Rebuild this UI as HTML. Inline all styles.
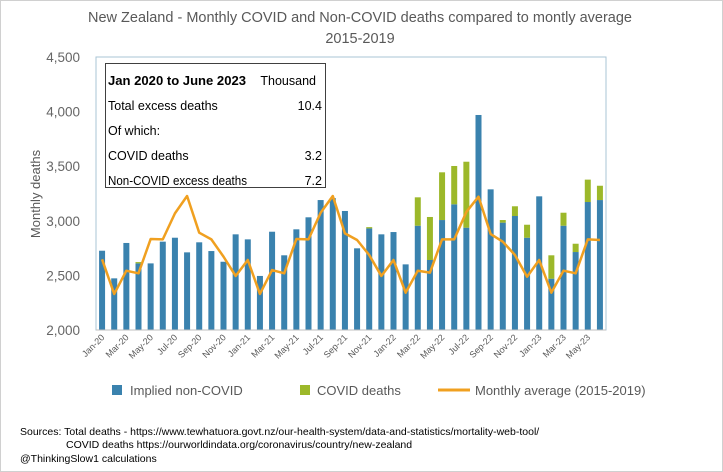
<!DOCTYPE html>
<html><head><meta charset="utf-8"><style>
body{margin:0;background:#fff;}
svg{display:block;font-family:"Liberation Sans",Arial,sans-serif;}
</style></head><body>
<svg id="chart" width="723" height="472" viewBox="0 0 723 472">
<rect x="0.5" y="0.5" width="722" height="471" fill="#fff" stroke="#d0d0d0"/>
<text x="360" y="22" text-anchor="middle" font-size="14.5" fill="#595959">New Zealand - Monthly COVID and Non-COVID deaths compared to montly average</text>
<text x="360" y="43" text-anchor="middle" font-size="14.5" fill="#595959">2015-2019</text>
<rect x="96" y="57" width="510" height="273" fill="none" stroke="#a9c4d6"/>
<g id="yaxis"></g>
<g id="bars"></g>
<g id="line"></g>
<g id="xaxis"></g>
<text transform="translate(40,194) rotate(-90)" text-anchor="middle" font-size="13" fill="#595959">Monthly deaths</text>
<g>
<rect x="105.5" y="63.5" width="220" height="124" fill="#fff" stroke="#404040"/>
<text x="108" y="85" font-size="12.5" font-weight="bold" fill="#000" textLength="138" lengthAdjust="spacingAndGlyphs">Jan 2020 to June 2023</text>
<text x="316" y="85" font-size="12.5" text-anchor="end" fill="#000">Thousand</text>
<text x="108" y="110" font-size="12.5" fill="#000">Total excess deaths</text>
<text x="322" y="110" font-size="12.5" text-anchor="end" fill="#000">10.4</text>
<text x="108" y="135" font-size="12.5" fill="#000">Of which:</text>
<text x="108" y="160" font-size="12.5" fill="#000">COVID deaths</text>
<text x="322" y="160" font-size="12.5" text-anchor="end" fill="#000">3.2</text>
<text x="108" y="185" font-size="12.5" fill="#000" textLength="139" lengthAdjust="spacingAndGlyphs">Non-COVID excess deaths</text>
<text x="322" y="185" font-size="12.5" text-anchor="end" fill="#000">7.2</text>
</g>
<g>
<rect x="112" y="385" width="10" height="10" fill="#3a82ae"/>
<text x="130" y="395" font-size="13" fill="#595959">Implied non-COVID</text>
<rect x="300" y="385" width="10" height="10" fill="#9cb82a"/>
<text x="317" y="395" font-size="13" fill="#595959">COVID deaths</text>
<line x1="438" y1="390" x2="470" y2="390" stroke="#f0a020" stroke-width="3"/>
<text x="475" y="395" font-size="13" fill="#595959">Monthly average (2015-2019)</text>
</g>
<g font-size="10.5" fill="#000">
<text x="20" y="435">Sources:  Total deaths - https://www.tewhatuora.govt.nz/our-health-system/data-and-statistics/mortality-web-tool/</text>
<text x="66" y="448">COVID deaths https://ourworldindata.org/coronavirus/country/new-zealand</text>
<text x="20" y="462">@ThinkingSlow1  calculations</text>
</g>
</svg>
<script>
const months = ["Jan-20","Feb-20","Mar-20","Apr-20","May-20","Jun-20","Jul-20","Aug-20","Sep-20","Oct-20","Nov-20","Dec-20","Jan-21","Feb-21","Mar-21","Apr-21","May-21","Jun-21","Jul-21","Aug-21","Sep-21","Oct-21","Nov-21","Dec-21","Jan-22","Feb-22","Mar-22","Apr-22","May-22","Jun-22","Jul-22","Aug-22","Sep-22","Oct-22","Nov-22","Dec-22","Jan-23","Feb-23","Mar-23","Apr-23","May-23","Jun-23"];
const nonCovid = [2726,2473,2797,2610,2610,2809,2845,2711,2803,2723,2625,2876,2830,2495,2900,2684,2922,3032,3190,3208,3090,2748,2930,2876,2897,2601,2955,2641,3007,3151,2937,3969,3288,2983,3044,2845,3224,2470,2955,2714,3172,3190];
const covid = [0,0,0,12,0,0,0,0,0,0,0,0,0,0,0,0,0,0,0,0,0,0,12,0,0,0,260,394,437,351,604,0,0,24,89,119,0,214,119,76,205,131];
const average = [2647,2330,2543,2519,2833,2830,3068,3227,2891,2830,2672,2495,2641,2330,2549,2519,2833,2830,3074,3227,2885,2824,2687,2495,2641,2342,2543,2525,2830,2830,3081,3221,2879,2809,2687,2488,2641,2342,2543,2519,2830,2824];
const yTicks = [2000,2500,3000,3500,4000,4500];
const labelEvery = 2;

const NS="http://www.w3.org/2000/svg";
const L=96,R=606,T=57,B=330,YMIN=2000,YMAX=4500;
const step=(R-L)/months.length;
const xc=i=>L+step*(i+0.5);
const y=v=>B-(v-YMIN)/(YMAX-YMIN)*(B-T);
function mk(tag,attrs,parent){const e=document.createElementNS(NS,tag);for(const k in attrs)e.setAttribute(k,attrs[k]);parent.appendChild(e);return e;}
const ya=document.getElementById('yaxis');
yTicks.forEach(t=>{
  const tx=mk('text',{x:80,y:y(t)+5,'text-anchor':'end','font-size':'13.5',fill:'#666'},ya);
  tx.textContent=t.toLocaleString('en-US');
  
  
});
const bg=document.getElementById('bars');
const bw=6;
months.forEach((m,i)=>{
  const b=mk('rect',{x:xc(i)-bw/2,y:y(nonCovid[i]),width:bw,height:B-y(nonCovid[i]),fill:'#3a82ae'},bg);
  
  
  if(covid[i]>0){
    const c=mk('rect',{x:xc(i)-bw/2,y:y(nonCovid[i]+covid[i]),width:bw,height:y(nonCovid[i])-y(nonCovid[i]+covid[i]),fill:'#9cb82a'},bg);
    
    
  }
});
const lg=document.getElementById('line');
const p=mk('polyline',{points:average.map((v,i)=>xc(i)+','+y(v)).join(' '),fill:'none',stroke:'#f0a020','stroke-width':'2.5','stroke-linejoin':'round'},lg);


const xa=document.getElementById('xaxis');
mk('line',{x1:L,y1:B,x2:R,y2:B,stroke:'#bfbfbf'},xa);
months.forEach((m,i)=>{
  if(i%labelEvery)return;
  const t=mk('text',{transform:`translate(${xc(i)+3},${B+8}) rotate(-45)`,'text-anchor':'end','font-size':'9',fill:'#595959'},xa);
  t.textContent=m;
  
  
});
</script>
</body></html>
